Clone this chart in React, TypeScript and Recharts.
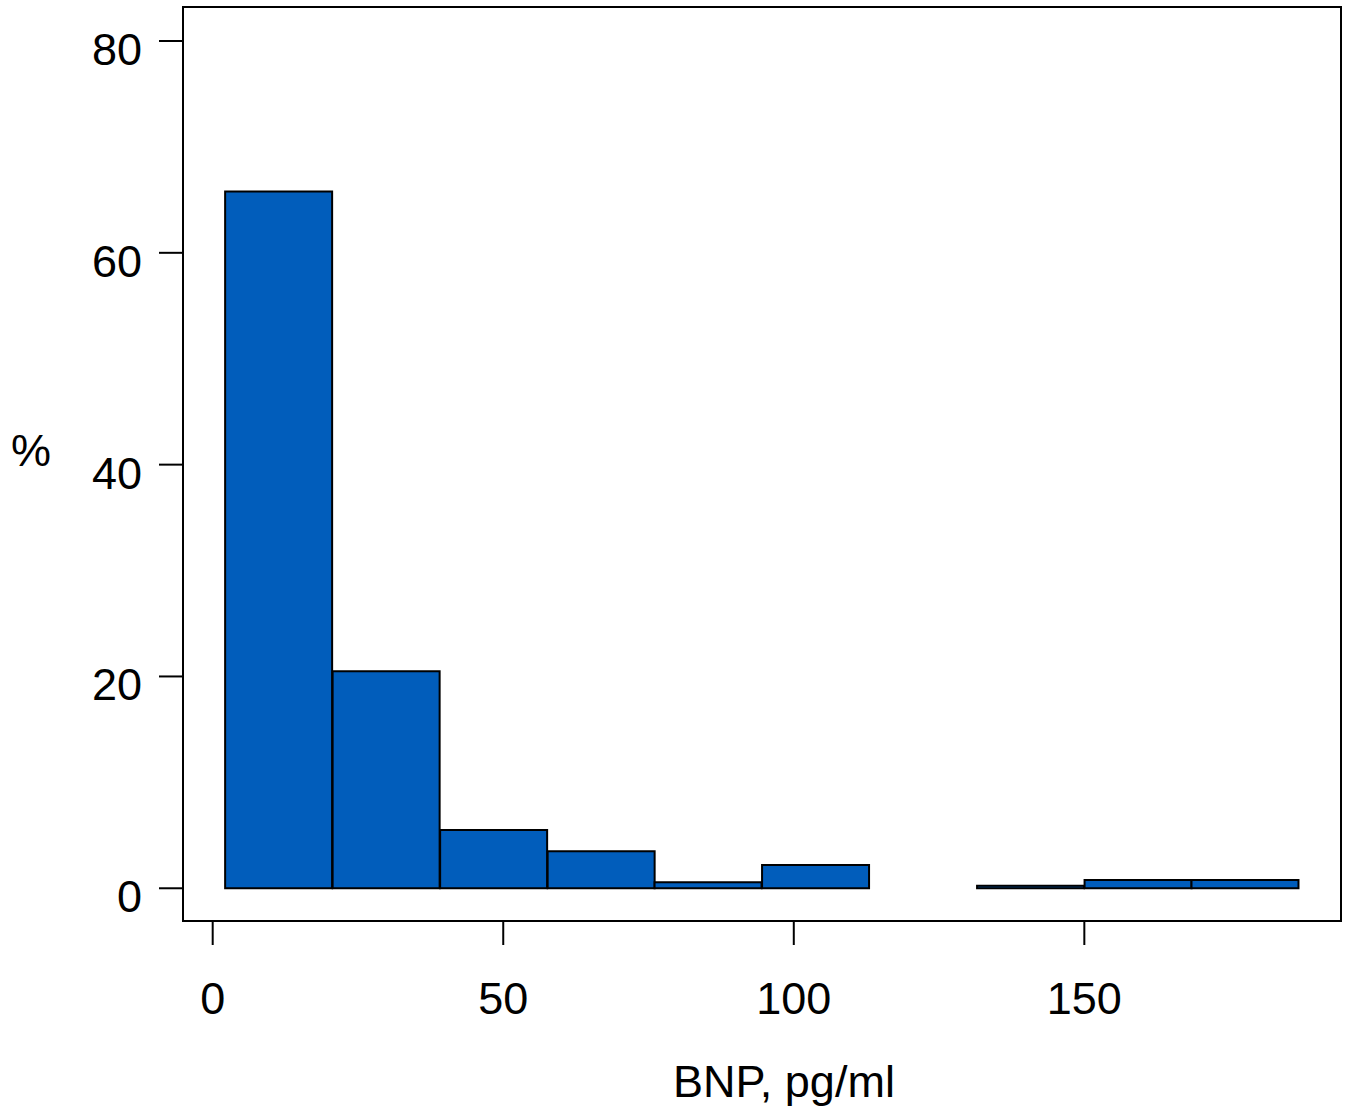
import { ComposedChart, Bar, XAxis, YAxis, ReferenceArea } from 'recharts';

// histogram bins (lower edge, pg/ml) and share of patients in each bin (%)
const binStarts = [2.1, 20.6, 39.1, 57.6, 76.0, 94.5, 113.0, 131.5, 150.0, 168.4];
const binWidth = 18.48;
const percents = [65.8, 20.5, 5.5, 3.5, 0.57, 2.2, 0, 0.25, 0.78, 0.78];

const xTicks = [0, 50, 100, 150];
const yTicks = [0, 20, 40, 60, 80];
const xDomain: [number, number] = [-5.11, 194.17];
const yDomain: [number, number] = [-3.09, 83.21];

const FONT = '"Liberation Sans", Arial, Helvetica, sans-serif';
const FONT_SIZE = 45;
const BAR_FILL = '#015DBB';

const data = binStarts.map((start, i) => ({
  mid: start + binWidth / 2,
  pct: percents[i],
}));

const YTick = ({ x, y, payload }: any) => (
  <text x={x} y={y + 24} textAnchor="end" fontSize={FONT_SIZE} fontFamily={FONT} fill="#000">
    {payload.value}
  </text>
);

const XTick = ({ x, y, payload }: any) => (
  <text x={x} y={y + 69} textAnchor="middle" fontSize={FONT_SIZE} fontFamily={FONT} fill="#000">
    {payload.value}
  </text>
);

export default function App() {
  return (
    <div style={{ position: 'absolute', left: 0, top: 0, background: '#fff' }}>
      <ComposedChart
        width={1352}
        height={1114}
        data={data}
        margin={{ top: 7, right: 11, bottom: 0, left: 0 }}
        barCategoryGap={0}
        barGap={0}
      >
        <XAxis
          dataKey="mid"
          type="number"
          domain={xDomain}
          ticks={xTicks}
          allowDataOverflow
          height={193}
          tickSize={24}
          tickMargin={0}
          axisLine={false}
          tickLine={{ stroke: '#000', strokeWidth: 2 }}
          tick={<XTick />}
          label={{
            content: () => (
              <text x={784} y={1097} textAnchor="middle" fontSize={FONT_SIZE} fontFamily={FONT} fill="#000">
                BNP, pg/ml
              </text>
            ),
          }}
        />
        <YAxis
          type="number"
          domain={yDomain}
          ticks={yTicks}
          allowDataOverflow
          width={183}
          tickSize={24}
          tickMargin={17}
          axisLine={false}
          tickLine={{ stroke: '#000', strokeWidth: 2 }}
          tick={<YTick />}
          label={{
            content: () => (
              <text x={11} y={466} textAnchor="start" fontSize={FONT_SIZE} fontFamily={FONT} fill="#000">
                %
              </text>
            ),
          }}
        />
        <ReferenceArea
          x1={xDomain[0]}
          x2={xDomain[1]}
          y1={yDomain[0]}
          y2={yDomain[1]}
          fill="none"
          fillOpacity={0}
          stroke="#000"
          strokeWidth={2}
          ifOverflow="visible"
        />
        <Bar
          dataKey="pct"
          fill={BAR_FILL}
          stroke="#000"
          strokeWidth={2}
          isAnimationActive={false}
        />
      </ComposedChart>
    </div>
  );
}
